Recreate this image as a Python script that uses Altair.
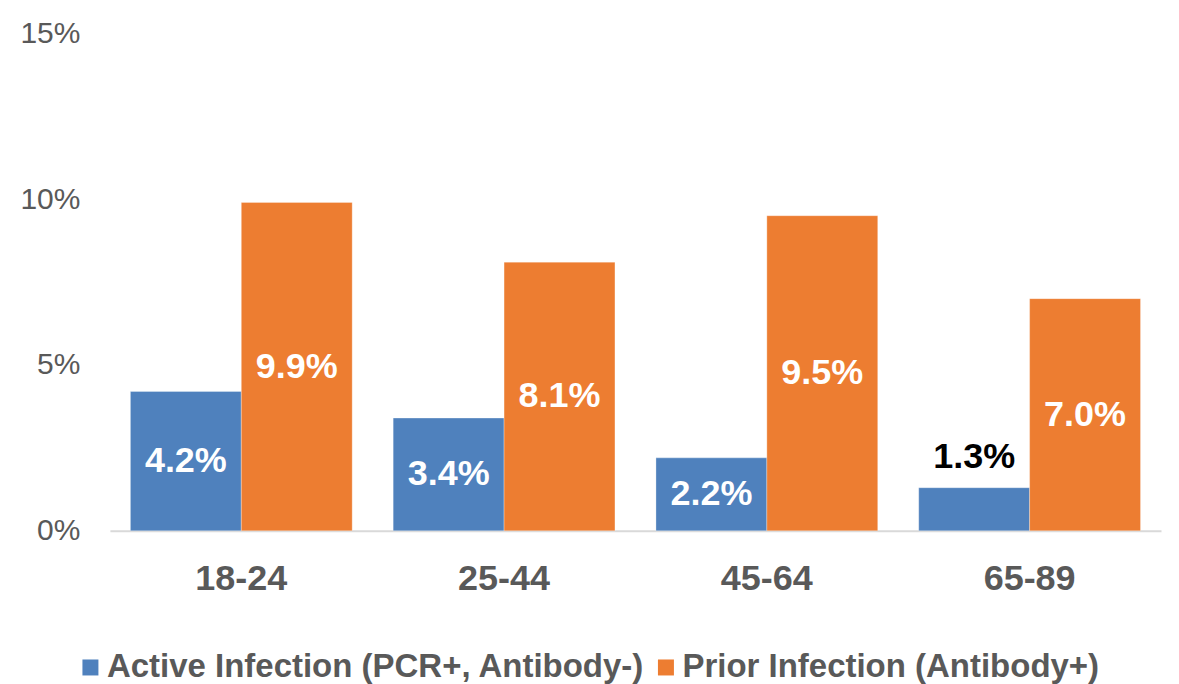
import altair as alt
import pandas as pd

groups = ["18-24", "25-44", "45-64", "65-89"]
series = ["Active Infection (PCR+, Antibody-)", "Prior Infection (Antibody+)"]
active = [0.042, 0.034, 0.022, 0.013]
prior = [0.099, 0.081, 0.095, 0.070]
colors = ["#4F81BD", "#ED7D31"]

rows = []
for g, a, p in zip(groups, active, prior):
    rows.append({"group": g, "series": series[0], "value": a})
    rows.append({"group": g, "series": series[1], "value": p})
df = pd.DataFrame(rows)

FONT = "Liberation Sans"
GRAY = "#595959"

x_enc = alt.X("group:N", sort=groups,
              scale=alt.Scale(paddingInner=0.156, paddingOuter=0.078),
              axis=alt.Axis(title=None, labelAngle=0, labelFontSize=36, labelFontWeight="bold",
                            labelColor=GRAY, labelFont=FONT, ticks=False, domainColor="#D9D9D9",
                            domainWidth=2, labelPadding=31))
xo = alt.XOffset("series:N", sort=series, scale=alt.Scale(paddingInner=0, paddingOuter=0))

bars = alt.Chart(df).mark_bar(stroke="white", strokeWidth=0.5, strokeOpacity=0.6).encode(
    x=x_enc,
    xOffset=xo,
    y=alt.Y("value:Q", scale=alt.Scale(domain=[0, 0.15], nice=False),
            axis=alt.Axis(title=None, values=[0, 0.05, 0.10, 0.15], format=".0%", grid=False,
                          domain=False, ticks=False, labelFontSize=30, labelColor=GRAY,
                          labelFont=FONT, labelPadding=30)),
    color=alt.Color("series:N", sort=series, scale=alt.Scale(domain=series, range=colors),
                    legend=alt.Legend(title=None, orient="none", direction="horizontal",
                                      legendX=-36, legendY=618, symbolType="square",
                                      symbolSize=256, symbolStrokeWidth=0,
                                      labelFontSize=33, labelFontWeight="bold", labelColor=GRAY,
                                      labelFont=FONT, columnPadding=4, labelOffset=0,
                                      padding=0, labelLimit=700)),
)

inside = alt.Chart(df).transform_filter("datum.value >= 0.02").transform_calculate(
    mid="datum.value / 2"
).mark_text(fontSize=36, fontWeight="bold", color="white", font=FONT, baseline="middle").encode(
    x=alt.X("group:N", sort=groups),
    xOffset=alt.XOffset("series:N", sort=series),
    y=alt.Y("mid:Q"),
    text=alt.Text("value:Q", format=".1%"),
)

outside = alt.Chart(df).transform_filter("datum.value < 0.02").mark_text(
    fontSize=36, fontWeight="bold", color="black", font=FONT, baseline="bottom", dy=-12
).encode(
    x=alt.X("group:N", sort=groups),
    xOffset=alt.XOffset("series:N", sort=series),
    y=alt.Y("value:Q"),
    text=alt.Text("value:Q", format=".1%"),
)

chart = alt.layer(bars, inside, outside).properties(
    width=1052, height=498,
    background="white",
    autosize=alt.AutoSizeParams(type="none"),
    padding={"left": 102, "top": 25, "right": 10, "bottom": 153},
).configure_view(strokeWidth=0, stroke=None)

chart.save("out.html", embed_options={"renderer": "svg", "actions": False})
